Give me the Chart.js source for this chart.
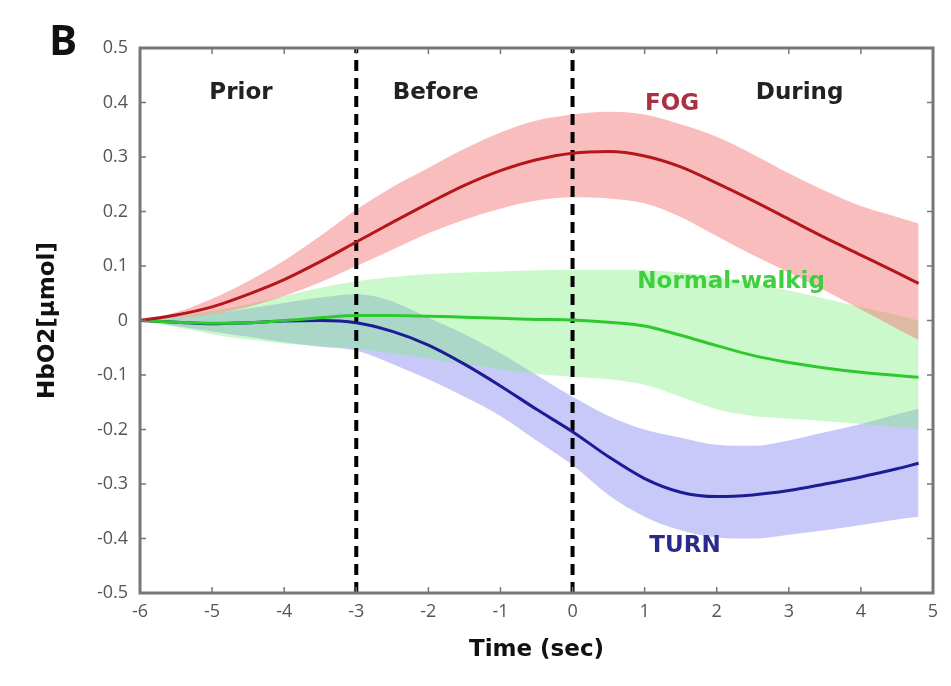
<!DOCTYPE html>
<html>
<head>
<meta charset="utf-8">
<script src="https://cdn.jsdelivr.net/npm/chart.js@4.4.0/dist/chart.umd.min.js"></script>
<style>
html, body { margin: 0; padding: 0; background: #fff; }
#wrap { width: 951px; height: 686px; position: relative; }
</style>
</head>
<body>
<div id="wrap"><canvas id="chart"></canvas></div>
<script>
// time axis (sec) and HbO2 curves
var timeSec = [-6, -5.5, -5, -4.5, -4, -3.5, -3, -2.5, -2, -1.5, -1, -0.5, 0, 0.5, 1, 1.5, 2, 2.5, 3, 3.5, 4, 4.5, 4.8];

var fogMean  = [0, 0.01, 0.025, 0.048, 0.075, 0.108, 0.144, 0.18, 0.215, 0.248, 0.275, 0.295, 0.307, 0.31, 0.302, 0.282, 0.252, 0.22, 0.186, 0.152, 0.12, 0.088, 0.068];
var fogUpper = [0, 0.015, 0.04, 0.072, 0.11, 0.155, 0.203, 0.245, 0.28, 0.315, 0.345, 0.367, 0.378, 0.383, 0.378, 0.36, 0.337, 0.305, 0.27, 0.238, 0.21, 0.19, 0.178];
var fogLower = [0, 0.005, 0.012, 0.025, 0.045, 0.07, 0.1, 0.13, 0.16, 0.185, 0.205, 0.22, 0.226, 0.224, 0.215, 0.19, 0.155, 0.12, 0.088, 0.055, 0.02, -0.015, -0.036];

var walkMean  = [0, -0.003, -0.005, -0.004, 0, 0.005, 0.009, 0.009, 0.008, 0.006, 0.004, 0.002, 0.001, -0.003, -0.01, -0.027, -0.046, -0.064, -0.077, -0.087, -0.095, -0.101, -0.104];
var walkUpper = [0, 0.008, 0.018, 0.03, 0.045, 0.06, 0.072, 0.08, 0.085, 0.088, 0.09, 0.092, 0.093, 0.093, 0.092, 0.088, 0.08, 0.068, 0.055, 0.04, 0.025, 0.01, 0.0];
var walkLower = [0, -0.012, -0.025, -0.035, -0.042, -0.047, -0.052, -0.06, -0.07, -0.08, -0.09, -0.098, -0.103, -0.108, -0.118, -0.14, -0.163, -0.175, -0.18, -0.185, -0.19, -0.196, -0.2];

var turnMean  = [0, -0.003, -0.006, -0.004, -0.001, 0, -0.004, -0.02, -0.045, -0.08, -0.12, -0.163, -0.204, -0.25, -0.29, -0.315, -0.323, -0.32, -0.312, -0.3, -0.287, -0.272, -0.262];
var turnUpper = [0, 0.005, 0.012, 0.022, 0.032, 0.042, 0.048, 0.035, 0.005, -0.025, -0.06, -0.1, -0.14, -0.175, -0.2, -0.215, -0.228, -0.23, -0.22, -0.205, -0.19, -0.172, -0.162];
var turnLower = [0, -0.01, -0.02, -0.03, -0.04, -0.048, -0.055, -0.08, -0.108, -0.14, -0.175, -0.22, -0.265, -0.32, -0.36, -0.385, -0.398, -0.4, -0.393, -0.385, -0.375, -0.365, -0.36];

// phase boundaries (dashed lines) and axis ticks
var phaseBounds = [-3, 0];
var xTicks = [-6, -5, -4, -3, -2, -1, 0, 1, 2, 3, 4, 5];
var yTicks = [0.5, 0.4, 0.3, 0.2, 0.1, 0, -0.1, -0.2, -0.3, -0.4, -0.5];

var notes = [
  { text: 'Prior', x: -4.6, y: 0.417, color: '#222' },
  { text: 'Before', x: -1.9, y: 0.417, color: '#222' },
  { text: 'During', x: 3.15, y: 0.417, color: '#222' },
  { text: 'FOG', x: 1.38, y: 0.398, color: '#a83240' },
  { text: 'Normal-walkig', x: 2.2, y: 0.071, color: '#3fcf3f' },
  { text: 'TURN', x: 1.56, y: -0.414, color: '#2a2a8c' }
];

function pts(ys) {
  return timeSec.map(function (t, i) { return { x: t, y: ys[i] }; });
}

function band(upper, lower, color) {
  return [
    { data: pts(upper), fill: '+1', backgroundColor: color, borderWidth: 0, pointRadius: 0, order: 10 },
    { data: pts(lower), fill: false, borderWidth: 0, pointRadius: 0, order: 10 }
  ];
}

function meanLine(ys, color) {
  return { data: pts(ys), fill: false, borderColor: color, borderWidth: 3, pointRadius: 0, cubicInterpolationMode: 'monotone', order: 0 };
}

var datasets = []
  .concat(band(fogUpper, fogLower, 'rgba(245, 115, 115, 0.47)'))
  .concat(band(walkUpper, walkLower, 'rgba(120, 240, 120, 0.38)'))
  .concat(band(turnUpper, turnLower, 'rgba(125, 125, 240, 0.42)'));
datasets.forEach(function (d) { d.cubicInterpolationMode = 'monotone'; });
datasets.push(meanLine(fogMean, '#b3171c'));
datasets.push(meanLine(walkMean, '#2fc92f'));
datasets.push(meanLine(turnMean, '#1c1c96'));
phaseBounds.forEach(function (b) {
  datasets.push({
    data: [{ x: b, y: -0.5 }, { x: b, y: 0.5 }],
    borderColor: '#000', borderWidth: 4, borderDash: [11, 7], pointRadius: 0, fill: false, order: 1
  });
});

var framePlugin = {
  id: 'frame',
  afterDatasetsDraw: function (chart) {
    var ctx = chart.ctx, a = chart.chartArea;
    var xs = chart.scales.x, ys = chart.scales.y;
    ctx.save();
    ctx.strokeStyle = '#777';
    ctx.lineWidth = 3;
    ctx.strokeRect(a.left, a.top, a.right - a.left, a.bottom - a.top);
    ctx.lineWidth = 1.5;
    ctx.beginPath();
    xTicks.forEach(function (v) {
      var px = xs.getPixelForValue(v);
      ctx.moveTo(px, a.bottom); ctx.lineTo(px, a.bottom - 6);
      ctx.moveTo(px, a.top); ctx.lineTo(px, a.top + 6);
    });
    yTicks.forEach(function (v) {
      var py = ys.getPixelForValue(v);
      ctx.moveTo(a.left, py); ctx.lineTo(a.left + 6, py);
      ctx.moveTo(a.right, py); ctx.lineTo(a.right - 6, py);
    });
    ctx.stroke();

    ctx.textAlign = 'center';
    ctx.textBaseline = 'middle';
    ctx.font = 'bold 23px "DejaVu Sans", sans-serif';
    notes.forEach(function (n) {
      ctx.fillStyle = n.color;
      ctx.fillText(n.text, xs.getPixelForValue(n.x), ys.getPixelForValue(n.y));
    });
    ctx.fillStyle = '#111';
    ctx.font = 'bold 42px "Open Sans", sans-serif';
    ctx.fillText('B', 63, 43);
    ctx.restore();
  }
};

new Chart(document.getElementById('chart'), {
  type: 'line',
  data: { datasets: datasets },
  options: {
    responsive: true,
    maintainAspectRatio: false,
    animation: false,
    layout: { padding: { left: 30, top: 48, right: 18, bottom: 18 } },
    plugins: { legend: { display: false }, tooltip: { enabled: false } },
    scales: {
      x: {
        type: 'linear', min: -6, max: 5,
        afterBuildTicks: function (s) { s.ticks = xTicks.map(function (v) { return { value: v }; }); },
        afterFit: function (s) { s.height = 75; },
        grid: { drawOnChartArea: false, drawTicks: false },
        border: { display: false },
        ticks: { padding: 8, color: '#555', font: { family: '"Open Sans", sans-serif', size: 18 } },
        title: { display: true, text: 'Time (sec)', color: '#111', padding: { top: 4, bottom: 4 }, font: { family: '"DejaVu Sans", sans-serif', size: 23, weight: 'bold' } }
      },
      y: {
        type: 'linear', min: -0.5, max: 0.5,
        afterBuildTicks: function (s) { s.ticks = yTicks.map(function (v) { return { value: v }; }); },
        afterFit: function (s) { s.width = 110; },
        grid: { drawOnChartArea: false, drawTicks: false },
        border: { display: false },
        ticks: { padding: 12, color: '#555', font: { family: '"Open Sans", sans-serif', size: 18 } },
        title: { display: true, text: 'HbO2[µmol]', color: '#111', padding: 4, font: { family: '"DejaVu Sans", sans-serif', size: 23, weight: 'bold' } }
      }
    }
  },
  plugins: [framePlugin]
});
</script>
</body>
</html>
